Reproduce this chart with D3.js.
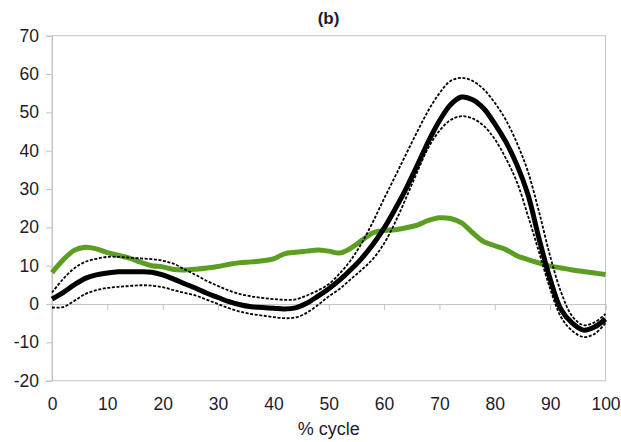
<!DOCTYPE html>
<html>
<head>
<meta charset="utf-8">
<script src="https://cdn.jsdelivr.net/npm/d3@7"></script>
<style>
  body { margin: 0; background: #fff; }
  .tick text { font-family: "Liberation Sans", Arial, sans-serif; font-size: 17.5px; fill: #1c1c2c; }
</style>
</head>
<body>
<div id="chart"></div>
<script>
// % of gait cycle
const cycle = d3.range(0, 101, 2);

// mean curve (thick black)
const meanVals = [1.3, 3.0, 5.0, 6.7, 7.6, 8.1, 8.4, 8.4, 8.4, 8.3, 7.6, 6.5, 5.3, 4.1, 2.8, 1.7, 0.6, -0.2, -0.7, -0.9,
    -1.1, -1.3, -1.0, 0.2, 2.0, 4.0, 6.3, 9.0, 12.0, 15.6, 19.8, 24.8, 30.2, 36.2, 42.4, 47.8, 52.0, 54.0, 53.3, 51.0,
    47.0, 42.3, 36.3, 28.5, 17.0, 6.5, -1.5, -5.0, -6.8, -6.0, -3.9];

// mean + SD (dashed)
const upperVals = [3.0, 6.5, 9.3, 11.0, 11.8, 12.3, 12.3, 12.1, 11.9, 11.7, 11.3, 10.5, 9.0, 7.6, 6.0, 4.7, 3.5, 2.6, 2.0, 1.6,
    1.3, 1.1, 1.2, 2.2, 3.5, 5.2, 8.0, 11.5, 16.0, 21.5, 27.5, 33.3, 39.2, 45.0, 50.5, 55.0, 58.2, 59.0, 58.2, 56.0,
    52.5, 48.0, 42.0, 34.5, 24.0, 12.5, 3.0, -3.2, -5.5, -4.8, -2.6];

// mean - SD (dashed)
const lowerVals = [-0.9, -0.8, 0.8, 2.6, 3.6, 4.2, 4.5, 4.7, 4.9, 4.8, 4.4, 3.6, 2.9, 2.2, 1.1, 0.0, -1.1, -2.0, -2.6, -3.0,
    -3.4, -3.7, -3.5, -2.3, -0.3, 2.0, 4.0, 6.5, 9.0, 11.8, 15.8, 21.3, 27.8, 34.5, 40.8, 45.2, 48.0, 49.0, 48.4, 46.5,
    43.0, 38.0, 31.8, 23.0, 13.5, 4.0, -3.5, -7.0, -8.6, -7.8, -5.0];

// comparison curve (green)
const greenVals = [8.2, 11.5, 14.0, 14.8, 14.4, 13.4, 12.7, 12.0, 10.9, 10.0, 9.7, 9.0, 8.9, 9.1, 9.4, 9.8, 10.4, 10.8, 11.0, 11.3,
    11.8, 13.1, 13.5, 13.8, 14.1, 13.8, 13.3, 14.6, 16.6, 18.6, 19.2, 19.4, 19.9, 20.6, 21.8, 22.5, 22.3, 21.2, 18.6, 16.3,
    15.2, 14.2, 12.6, 11.6, 10.7, 9.9, 9.4, 8.9, 8.5, 8.1, 7.7];

const xTicks = d3.range(0, 101, 10);
const yTicks = d3.range(-20, 71, 10);

const width = 621, height = 442;
const margin = { top: 35.7, right: 15.5, bottom: 61.3, left: 52 };
const innerW = width - margin.left - margin.right;
const innerH = height - margin.top - margin.bottom;

const svg = d3.select("#chart").append("svg")
    .attr("width", width)
    .attr("height", height);

const g = svg.append("g")
    .attr("transform", `translate(${margin.left},${margin.top})`);

const x = d3.scaleLinear().domain([0, 100]).range([0, innerW]);
const y = d3.scaleLinear().domain([-20, 70]).range([innerH, 0]);

// plot area border
g.append("rect")
    .attr("x", 0).attr("y", 0)
    .attr("width", innerW).attr("height", innerH)
    .attr("fill", "none")
    .attr("stroke", "#c4c4c4")
    .attr("stroke-width", 1);

// y axis (plain hyphen for negatives, like the original)
const yAxis = g.append("g")
    .call(d3.axisLeft(y).tickValues(yTicks).tickSize(6).tickPadding(7).tickFormat(d => String(d)));
yAxis.select(".domain").attr("stroke", "#c4c4c4");
yAxis.selectAll(".tick line").attr("stroke", "#c4c4c4");

// x axis crossing at zero, ticks only
const xAxis = g.append("g")
    .attr("transform", `translate(0,${y(0)})`)
    .call(d3.axisBottom(x).tickValues(xTicks).tickSize(6).tickFormat(""));
xAxis.select(".domain").attr("stroke", "#c4c4c4");
xAxis.selectAll(".tick line").attr("stroke", "#c4c4c4");

// x tick labels at the bottom
const xLabels = g.append("g")
    .attr("transform", `translate(0,${innerH})`)
    .call(d3.axisBottom(x).tickValues(xTicks).tickSize(0).tickPadding(17));
xLabels.select(".domain").remove();

// lines
const line = vals => d3.line()
    .x((d, i) => x(cycle[i]))
    .y(d => y(d))
    .curve(d3.curveCatmullRom.alpha(0.5))(vals);

g.append("path")
    .attr("d", line(greenVals))
    .attr("fill", "none")
    .attr("stroke", "#5b9e22")
    .attr("stroke-width", 5);

[upperVals, lowerVals].forEach(vals => {
    g.append("path")
        .attr("d", line(vals))
        .attr("fill", "none")
        .attr("stroke", "#000")
        .attr("stroke-width", 1.8)
        .attr("stroke-dasharray", "3,1.6");
});

g.append("path")
    .attr("d", line(meanVals))
    .attr("fill", "none")
    .attr("stroke", "#000")
    .attr("stroke-width", 5)
    .attr("stroke-linejoin", "round");

// title
svg.append("text")
    .attr("x", 328.5)
    .attr("y", 24)
    .attr("text-anchor", "middle")
    .style("font-family", "'Liberation Sans', Arial, sans-serif")
    .style("font-size", "17px")
    .style("font-weight", "bold")
    .style("fill", "#1c1c2c")
    .text("(b)");

// x axis title
svg.append("text")
    .attr("x", margin.left + innerW / 2)
    .attr("y", 435)
    .attr("text-anchor", "middle")
    .style("font-family", "'Liberation Sans', Arial, sans-serif")
    .style("font-size", "18px")
    .style("fill", "#1c1c2c")
    .text("% cycle");
</script>
</body>
</html>
